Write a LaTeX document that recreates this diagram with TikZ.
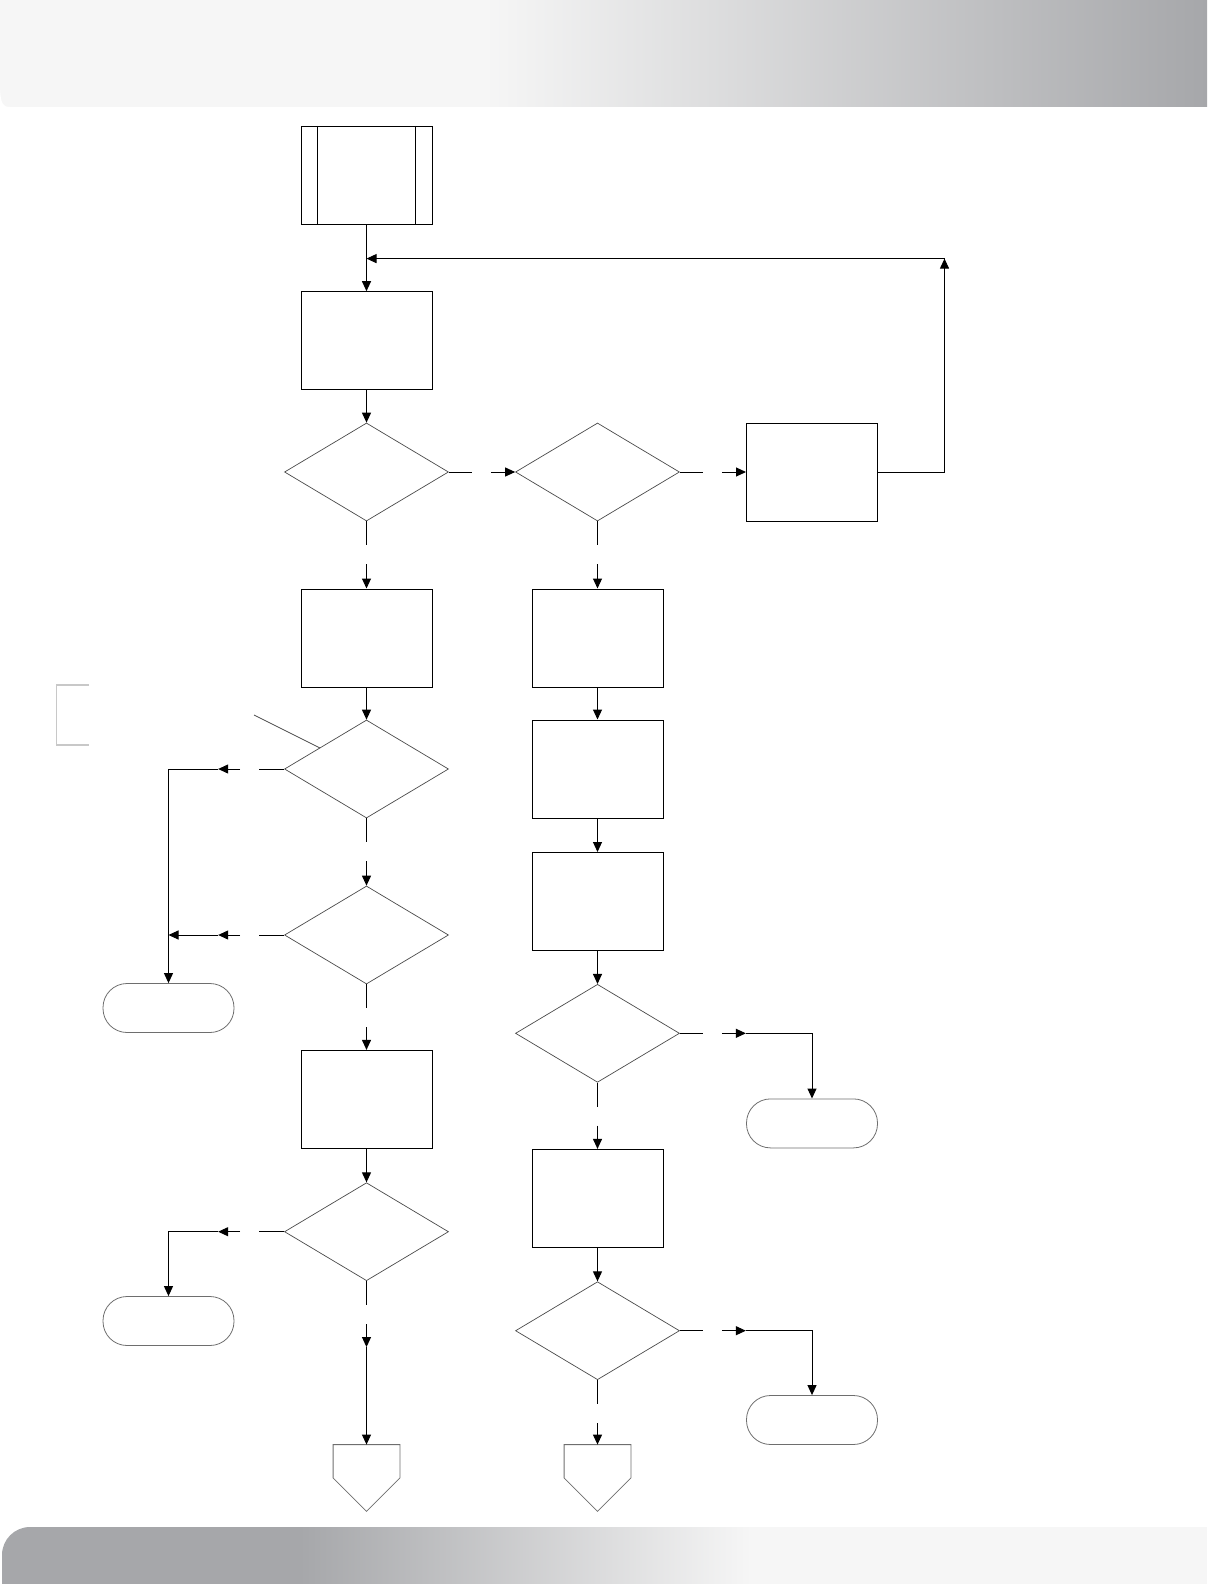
\documentclass[tikz,border=0pt]{standalone}
\usetikzlibrary{shapes.geometric,arrows.meta,calc}
\definecolor{hdrlight}{HTML}{F6F6F6}
\definecolor{hdrdark}{HTML}{A6A7AA}
\definecolor{shapegray}{HTML}{4A4A4A}
\definecolor{termgray}{HTML}{6E6E6E}
\definecolor{bracketgray}{HTML}{C8C8C8}
\begin{document}
\begin{tikzpicture}[x=0.5pt,y=-0.5pt,
  proc/.style={draw=black,line width=0.5pt,minimum width=65.5pt,minimum height=49pt,inner sep=0pt},
  dec/.style={diamond,draw=shapegray,line width=0.35pt,minimum width=82pt,minimum height=49pt,inner sep=0pt},
  term/.style={draw=termgray,line width=0.4pt,rounded corners=12pt,minimum width=65.5pt,minimum height=24.5pt,inner sep=0pt},
  offp/.style={minimum width=33pt,minimum height=33pt,inner sep=0pt},
  conn/.style={line width=0.5pt,black},
  arr/.style={conn,-{Triangle[length=5pt,width=4.5pt]}}]
\useasboundingbox (0,0) rectangle (1207,1584);
% header
\fill[hdrlight] (0,0) rectangle (486,107);
\shade[left color=hdrlight,right color=hdrdark] (485,0) rectangle (1207,107);
\fill[white] (0,90) .. controls (1,104) and (3,107) .. (10,107) -- (0,107) -- cycle;
% footer
\fill[hdrdark,rounded corners=14pt] (2,1527) rectangle (330,1620);
\fill[hdrdark] (200,1527) rectangle (301,1584);
\shade[left color=hdrdark,right color=hdrlight] (300,1527) rectangle (751,1584);
\fill[hdrlight] (750,1527) rectangle (1207,1584);
\fill[white] (0,1584) rectangle (1207,1600);
% nodes
\node[proc] (A) at (366.5,175.5) {};
\draw[line width=0.5pt] ($(A.north west)+(16.6,0)$) -- ($(A.south west)+(16.6,0)$);
\draw[line width=0.5pt] ($(A.north east)+(-16.6,0)$) -- ($(A.south east)+(-16.6,0)$);
\node[proc] (B) at (366.5,340.7) {};
\node[dec] (D1) at (366.5,472) {};
\node[dec] (D2) at (597.5,472) {};
\node[proc] (C) at (812,472) {};
\node[proc] (E) at (366.5,638) {};
\node[proc] (F) at (597.5,638) {};
\node[dec] (D3) at (366.5,769) {};
\node[proc] (G) at (597.5,769) {};
\node[dec] (D4) at (366.5,935) {};
\node[proc] (H) at (597.5,901.5) {};
\node[term] (T1) at (168.5,1008) {};
\node[dec] (D5) at (597.5,1033.3) {};
\node[proc] (I) at (366.5,1099.4) {};
\node[term] (T2) at (812,1123.4) {};
\node[dec] (D6) at (366.5,1231.7) {};
\node[proc] (J) at (597.5,1198.4) {};
\node[term] (T3) at (168.5,1321) {};
\node[dec] (D7) at (597.5,1330.7) {};
\node[term] (T4) at (812,1420) {};
\node[offp] (P1) at (366.5,1478) {};
\node[offp] (P2) at (597.5,1478) {};
\draw[termgray,line width=0.4pt] (P1.north west) -- (P1.north east) -- (P1.east) -- (P1.south) -- (P1.west) -- cycle;
\draw[termgray,line width=0.4pt] (P2.north west) -- (P2.north east) -- (P2.east) -- (P2.south) -- (P2.west) -- cycle;
% side marks
\draw[shapegray,line width=0.35pt] (254,715) -- (320,748);
\draw[bracketgray,line width=0.8pt] (89,685) -- (56.5,685) -- (56.5,745) -- (89,745);
% straight connectors
\draw[arr] (A.south) -- (B.north);
\draw[arr] (B.south) -- (D1.north);
\draw[arr] (E.south) -- (D3.north);
\draw[arr] (F.south) -- (G.north);
\draw[arr] (G.south) -- (H.north);
\draw[arr] (H.south) -- (D5.north);
\draw[arr] (I.south) -- (D6.north);
\draw[arr] (J.south) -- (D7.north);
% loop back
\coordinate (J1) at (366.5,258.6);
\coordinate (L1) at (944.5,472);
\coordinate (L2) at (944.5,258.6);
\draw[arr] (C.east) -- (L1) -- (L2);
\draw[arr] (L2) -- (J1);
% gapped horizontal connectors to the right
\draw[conn] (D1.east) -- ++(23,0);
\draw[arr] ($(D1.east)+(42,0)$) -- (D2.west);
\draw[conn] (D2.east) -- ++(23,0);
\draw[arr] ($(D2.east)+(42,0)$) -- (C.west);
% gapped vertical connectors
\draw[conn] (D1.south) -- ++(0,24);
\draw[arr] ($(D1.south)+(0,43)$) -- (E.north);
\draw[conn] (D2.south) -- ++(0,24);
\draw[arr] ($(D2.south)+(0,43)$) -- (F.north);
\draw[conn] (D3.south) -- ++(0,24);
\draw[arr] ($(D3.south)+(0,43)$) -- (D4.north);
\draw[conn] (D4.south) -- ++(0,24);
\draw[arr] ($(D4.south)+(0,43)$) -- (I.north);
\draw[conn] (D5.south) -- ++(0,24);
\draw[arr] ($(D5.south)+(0,43)$) -- (J.north);
\draw[conn] (D6.south) -- ++(0,24);
\draw[arr] ($(D6.south)+(0,43)$) -- ($(D6.south)+(0,66)$);
\draw[arr] ($(D6.south)+(0,66)$) -- (P1.north);
\draw[conn] (D7.south) -- ++(0,24);
\draw[arr] ($(D7.south)+(0,43)$) -- (P2.north);
% left branches
\coordinate (K3) at (T1.north |- D3.west);
\coordinate (K4) at (T1.north |- D4.west);
\coordinate (K6) at (T3.north |- D6.west);
\draw[conn] (D3.west) -- ++(-25,0);
\draw[arr] ($(D3.west)+(-44,0)$) -- ($(D3.west)+(-66,0)$);
\draw[arr] ($(D3.west)+(-66,0)$) -- (K3) -- (T1.north);
\draw[conn] (D4.west) -- ++(-25,0);
\draw[arr] ($(D4.west)+(-44,0)$) -- ($(D4.west)+(-66,0)$);
\draw[arr] ($(D4.west)+(-66,0)$) -- (K4);
\draw[conn] (D6.west) -- ++(-25,0);
\draw[arr] ($(D6.west)+(-44,0)$) -- ($(D6.west)+(-66,0)$);
\draw[arr] ($(D6.west)+(-66,0)$) -- (K6) -- (T3.north);
% right branches
\coordinate (K5) at (T2.north |- D5.east);
\coordinate (K7) at (T4.north |- D7.east);
\draw[conn] (D5.east) -- ++(23,0);
\draw[arr] ($(D5.east)+(42,0)$) -- ($(D5.east)+(66,0)$);
\draw[arr] ($(D5.east)+(66,0)$) -- (K5) -- (T2.north);
\draw[conn] (D7.east) -- ++(23,0);
\draw[arr] ($(D7.east)+(42,0)$) -- ($(D7.east)+(66,0)$);
\draw[arr] ($(D7.east)+(66,0)$) -- (K7) -- (T4.north);
\end{tikzpicture}
\end{document}
